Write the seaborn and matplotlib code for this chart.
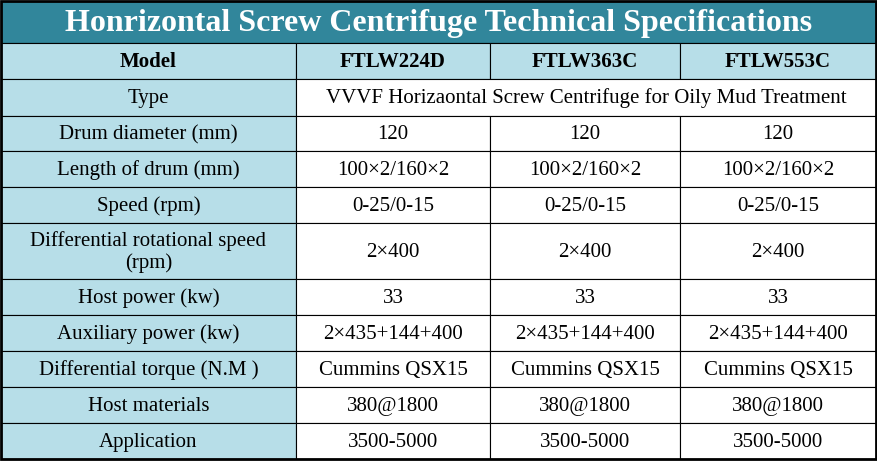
import matplotlib.pyplot as plt
import seaborn as sns
from matplotlib.patches import Rectangle

sns.set_theme(style="white", font="Liberation Serif")

# DATA
title = "Honrizontal Screw Centrifuge Technical Specifications"
models = ["FTLW224D", "FTLW363C", "FTLW553C"]
row_labels = ["Type", "Drum diameter (mm)", "Length of drum (mm)", "Speed (rpm)",
              "Differential rotational speed\n(rpm)", "Host power (kw)", "Auxiliary power (kw)",
              "Differential torque (N.M )", "Host materials", "Application"]
type_text = "VVVF Horizaontal Screw Centrifuge for Oily Mud Treatment"
drum_diameter = ["120", "120", "120"]
drum_length = ["100\u00d72/160\u00d72"] * 3
speed = ["0-25/0-15"] * 3
diff_speed = ["2\u00d7400"] * 3
host_power = ["33"] * 3
aux_power = ["2\u00d7435+144+400"] * 3
torque = ["Cummins QSX15"] * 3
materials = ["380@1800"] * 3
application = ["3500-5000"] * 3
values = [drum_diameter, drum_length, speed, diff_speed, host_power,
          aux_power, torque, materials, application]

W, H = 878, 461
fig = plt.figure(figsize=(W / 100, H / 100), dpi=100)
ax = fig.add_axes([0, 0, 1, 1])
ax.set_xlim(0, W)
ax.set_ylim(H, 0)
ax.axis("off")

teal = "#31869b"
light = "#b7dee8"
xs = [1, 296, 490, 680, 876]
ys = [1, 43, 79, 116, 151, 187, 223, 279, 315, 351, 387, 423, 459]

def cell(x0, x1, y0, y1, fc, text, **kw):
    ax.add_patch(Rectangle((x0, y0), x1 - x0, y1 - y0, facecolor=fc, edgecolor="black", lw=0.8))
    ax.text((x0 + x1) / 2, (y0 + y1) / 2 + 1, text, ha="center", va="center",
            fontfamily="Liberation Serif", linespacing=1.2, **kw)

# title bar
cell(xs[0], xs[-1], ys[0], ys[1], teal, title, color="white", fontsize=23, fontweight="bold")

# header
cell(xs[0], xs[1], ys[1], ys[2], light, "Model", fontsize=15, fontweight="bold", color="black")
for j, m in enumerate(models):
    cell(xs[j + 1], xs[j + 2], ys[1], ys[2], light, m, fontsize=15, fontweight="bold", color="black")

# body rows
for i, lab in enumerate(row_labels):
    y0, y1 = ys[i + 2], ys[i + 3]
    cell(xs[0], xs[1], y0, y1, light, lab, fontsize=15, color="black")
    if i == 0:
        cell(xs[1], xs[-1], y0, y1, "white", type_text, fontsize=15, color="black")
    else:
        for j in range(3):
            cell(xs[j + 1], xs[j + 2], y0, y1, "white", values[i - 1][j], fontsize=15, color="black")

ax.add_patch(Rectangle((xs[0], ys[0]), xs[-1] - xs[0], ys[-1] - ys[0], fill=False, edgecolor="black", lw=2))

fig.savefig("out.png", dpi=100)
